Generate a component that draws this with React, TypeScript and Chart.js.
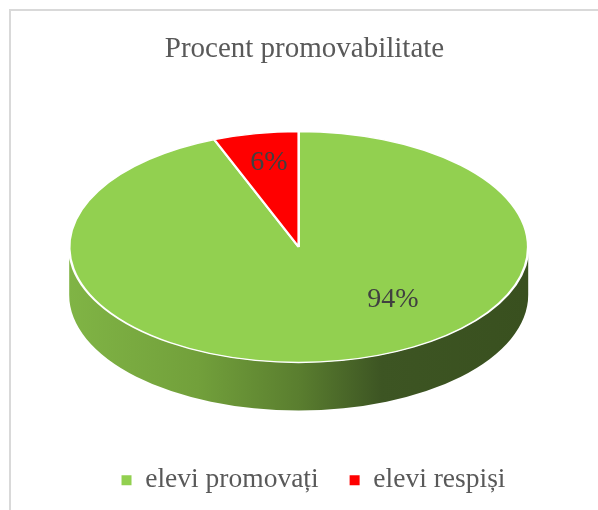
import React, { useEffect, useRef } from 'react';
import { Chart, registerables } from 'chart.js';

Chart.register(...registerables);

// ---- data ----
const categories: string[] = ['elevi promovați', 'elevi respiși'];
const values: number[] = [94, 6];
const sliceColors: string[] = ['#92D050', '#FF0000'];
const titleText = 'Procent promovabilitate';

const SERIF = '"Liberation Serif", "Times New Roman", Times, serif';

// side (extrusion) gradients for each slice
const sideGradients: [number, string][][] = [
  [
    [0, '#80b445'],
    [0.28, '#72a03b'],
    [0.5, '#5a7e2f'],
    [0.68, '#3d5523'],
    [1, '#39501f'],
  ],
  [
    [0, '#cc0000'],
    [1, '#600000'],
  ],
];

const pie3d = {
  id: 'pie3d',
  afterLayout(chart: any, _args: any, opts: any) {
    if (chart.legend) {
      chart.legend.left += opts.legendShift;
      chart.legend.right += opts.legendShift;
    }
  },
  beforeDatasetsDraw(chart: any, _args: any, opts: any) {
    const meta = chart.getDatasetMeta(0);
    const arcs = meta.data as any[];
    if (!arcs.length) return;
    const R = arcs[0].outerRadius;
    const ctx: CanvasRenderingContext2D = chart.ctx;
    const { cx, cy, rx, ry, depth } = opts;
    ctx.save();
    arcs.forEach((arc: any, i: number) => {
      const s = arc.startAngle;
      const e = arc.endAngle;
      for (const base of [-2 * Math.PI, 0, 2 * Math.PI]) {
        const a = Math.max(s, base);
        const b = Math.min(e, base + Math.PI);
        if (b <= a) continue;
        const g = ctx.createLinearGradient(cx - rx, 0, cx + rx, 0);
        sideGradients[i].forEach(([p, c]) => g.addColorStop(p, c));
        ctx.beginPath();
        ctx.ellipse(cx, cy, rx, ry, 0, a, b);
        ctx.ellipse(cx, cy + depth, rx, ry, 0, b, a, true);
        ctx.closePath();
        ctx.fillStyle = g;
        ctx.fill();
      }
    });
    ctx.restore();
    ctx.save();
    ctx.translate(cx, cy);
    ctx.scale(rx / R, ry / R);
    ctx.translate(-arcs[0].x, -arcs[0].y);
  },
  afterDatasetsDraw(chart: any, _args: any, opts: any) {
    const ctx: CanvasRenderingContext2D = chart.ctx;
    ctx.restore();
    const { cx, cy, rx, ry, anchors } = opts;
    const total = values.reduce((s, v) => s + v, 0);
    ctx.save();
    ctx.font = `28px ${SERIF}`;
    ctx.fillStyle = '#404040';
    ctx.textAlign = 'center';
    ctx.textBaseline = 'middle';
    values.forEach((v, i) => {
      const [fx, fy] = anchors[i];
      ctx.fillText(Math.round((v / total) * 100) + '%', cx + fx * rx, cy + fy * ry);
    });
    ctx.restore();
  },
};

export default function App() {
  const ref = useRef<HTMLCanvasElement>(null);
  useEffect(() => {
    if (!ref.current) return;
    const baseGen = (Chart as any).overrides.pie.plugins.legend.labels.generateLabels;
    const chart = new Chart(ref.current, {
      type: 'pie',
      data: {
        labels: categories,
        datasets: [
          {
            data: values,
            backgroundColor: sliceColors,
            borderColor: '#ffffff',
            borderWidth: 2,
            hoverOffset: 0,
          },
        ],
      },
      plugins: [pie3d],
      options: {
        responsive: false,
        animation: false,
        events: [],
        layout: { padding: { top: 0, bottom: 6, left: 0, right: 0 } },
        plugins: {
          title: {
            display: true,
            text: titleText,
            color: '#595959',
            font: { family: SERIF, size: 29, weight: 'normal' },
            padding: { top: 21, bottom: 10 },
          },
          legend: {
            display: true,
            position: 'bottom',
            labels: {
              color: '#595959',
              font: { family: SERIF, size: 27.5 },
              boxWidth: 10,
              boxHeight: 10,
              padding: 31,
              generateLabels: (c: any) =>
                baseGen(c).map((l: any) => ({ ...l, lineWidth: 0, strokeStyle: 'rgba(0,0,0,0)' })),
            },
          },
          tooltip: { enabled: false },
          pie3d: {
            cx: 287.7,
            cy: 236,
            rx: 229.5,
            ry: 115.5,
            depth: 48,
            legendShift: 9,
            anchors: [
              [0.41, 0.455],
              [-0.13, -0.73],
            ],
          },
        } as any,
      },
    });
    return () => chart.destroy();
  }, []);

  return (
    <div
      style={{
        position: 'absolute',
        left: 9,
        top: 9,
        width: 589,
        height: 501,
        boxSizing: 'border-box',
        borderLeft: '2px solid #d9d9d9',
        borderTop: '2px solid #d9d9d9',
        background: '#ffffff',
      }}
    >
      <canvas ref={ref} width={587} height={499} style={{ display: 'block' }} />
    </div>
  );
}
